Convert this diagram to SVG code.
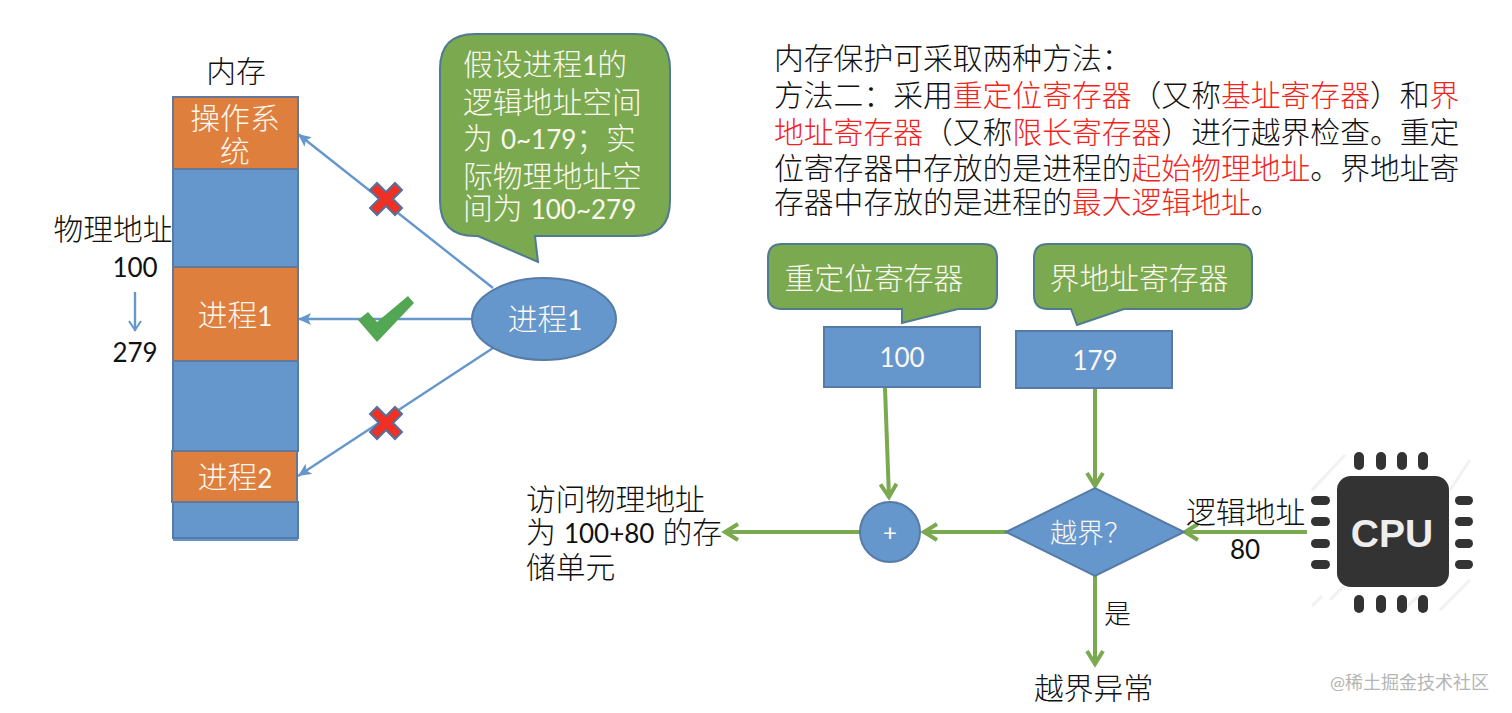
<svg xmlns="http://www.w3.org/2000/svg" width="1512" height="713" viewBox="0 0 1512 713">
<style>
text{font-family:"Lato","Noto Sans CJK SC",sans-serif;font-size:29.8px;fill:#111;font-weight:300}
.w{fill:#fbf8f0}
.m{text-anchor:middle}
.r{fill:#f0241c}
.n{font-size:26px;font-weight:400}
.s{fill:#6597cd;stroke:#557ba6;stroke-width:2}
.o{fill:#df7f3e;stroke:#64799a;stroke-width:2}
.g{fill:#7aa94f;stroke:#4f7a8f;stroke-width:2}
.bl{stroke:#6597cd;stroke-width:2.4;fill:none}
.gl{stroke:#7aa94f;stroke-width:4;fill:none}
.x{fill:#ee3124;stroke:#55709a;stroke-width:2}
.p{fill:#333}
.h{stroke:#f1f1f1;stroke-width:3}
</style>
<defs>
<marker id="ab" markerUnits="userSpaceOnUse" markerWidth="20" markerHeight="16" refX="13" refY="6" orient="auto"><path d="M0 0L13 6L0 12L3 6Z" fill="#6597cd"/></marker>
<marker id="ag" markerUnits="userSpaceOnUse" markerWidth="24" markerHeight="24" refX="17" refY="10" orient="auto"><path d="M3 2L16 10L3 18" fill="none" stroke="#7aa94f" stroke-width="4"/></marker>
<marker id="as" markerUnits="userSpaceOnUse" markerWidth="20" markerHeight="20" refX="13" refY="8" orient="auto"><path d="M3 2L12 8L3 14" fill="none" stroke="#6597cd" stroke-width="2"/></marker>
</defs>
<rect width="1512" height="713" fill="#fff"/>
<g id="connectors">
<path class="bl" marker-end="url(#ab)" d="M493 288L298 134"/>
<path class="bl" marker-end="url(#ab)" d="M472 319H298"/>
<path class="bl" marker-end="url(#ab)" d="M493 348L298 476"/>
<path class="bl" marker-end="url(#as)" d="M135 292V331"/>
<path class="gl" marker-end="url(#ag)" d="M885 388L889 498"/>
<path class="gl" marker-end="url(#ag)" d="M1095 388V487"/>
<path class="gl" marker-end="url(#ag)" d="M1007 532H923"/>
<path class="gl" marker-end="url(#ag)" d="M860 532H724"/>
<path class="gl" marker-end="url(#ag)" d="M1095 576V665"/>
<path class="gl" marker-end="url(#ag)" d="M1307 532H1184"/>
</g>
<g id="memory">
<rect x="173" y="502" width="125" height="39" fill="#6597cd"/>
<rect class="s" x="173" y="169" width="125" height="98"/>
<rect class="s" x="173" y="361" width="125" height="90"/>
<rect class="s" x="173" y="502" width="125" height="36"/>
<g id="os"><rect class="o" x="173" y="97" width="125" height="72"/><text class="w m" x="235" y="129">操作系</text><text class="w m" x="235" y="162">统</text></g>
<g id="p1"><rect class="o" x="173" y="267" width="125" height="94"/><text class="w m" x="235" y="326">进程<tspan class="n">1</tspan></text></g>
<g id="p2"><rect class="o" x="172" y="451" width="125" height="51"/><text class="w m" x="235" y="488">进程<tspan class="n">2</tspan></text></g>
</g>
<text id="mem-label" class="m" x="236" y="82">内存</text>
<g id="addr"><text class="m" x="113" y="240">物理地址</text><text class="m n" x="135" y="277">100</text><text class="m n" x="135" y="362">279</text></g>
<g id="marks">
<path class="x" transform="translate(386 199)" d="M-9-16L0-7L9-16L16-9L7 0L16 9L9 16L0 7L-9 16L-16 9L-7 0L-16-9Z"/>
<path class="x" transform="translate(386 423)" d="M-9-16L0-7L9-16L16-9L7 0L16 9L9 16L0 7L-9 16L-16 9L-7 0L-16-9Z"/>
<path fill="#53a653" d="M358 320L368 312L377 322L408 296L414 303L377 342Z"/>
</g>
<g id="proc"><ellipse class="s" cx="544" cy="319" rx="72" ry="41"/><text class="w m" x="545" y="330">进程<tspan class="n">1</tspan></text></g>
<g id="callout1"><path class="g" d="M475 34H635Q670 34 670 69V201Q670 236 635 236H535L538 262L478 236H475Q440 236 440 201V69Q440 34 475 34Z"/>
<text class="w" x="463" y="75">假设进程<tspan class="n">1</tspan>的</text><text class="w" x="463" y="113">逻辑地址空间</text><text class="w" x="463" y="149">为 <tspan class="n">0~179</tspan>；实</text><text class="w" x="463" y="187">际物理地址空</text><text class="w" x="463" y="219">间为 <tspan class="n">100~279</tspan></text></g>
<g id="desc">
<text x="774" y="69">内存保护可采取两种方法：</text>
<text x="774" y="106">方法二：采用<tspan class="r">重定位寄存器</tspan>（又称<tspan class="r">基址寄存器</tspan>）和<tspan class="r">界</tspan></text>
<text x="774" y="143"><tspan class="r">地址寄存器</tspan>（又称<tspan class="r">限长寄存器</tspan>）进行越界检查。重定</text>
<text x="774" y="179">位寄存器中存放的是进程的<tspan class="r">起始物理地址</tspan>。界地址寄</text>
<text x="774" y="213">存器中存放的是进程的<tspan class="r">最大逻辑地址</tspan>。</text>
</g>
<g id="callout2"><path class="g" d="M782 244H983Q997 244 997 258V295Q997 309 983 309H958L902 323V309H782Q768 309 768 295V258Q768 244 782 244Z"/><text class="w m" x="874" y="289">重定位寄存器</text></g>
<g id="callout3"><path class="g" d="M1048 244H1238Q1252 244 1252 258V295Q1252 309 1238 309H1124L1077 325L1071 309H1048Q1034 309 1034 295V258Q1034 244 1048 244Z"/><text class="w m" x="1139" y="289">界地址寄存器</text></g>
<g id="box100"><rect class="s" x="824" y="327" width="156" height="60"/><text class="w m n" x="902" y="367">100</text></g>
<g id="box179"><rect class="s" x="1016" y="331" width="156" height="57"/><text class="w m n" x="1095" y="370">179</text></g>
<g id="plus"><circle class="s" cx="890" cy="532" r="30"/><text class="w m" x="890" y="541" style="font-size:24px;font-weight:400">+</text></g>
<g id="check"><path class="s" d="M1006 532L1095 488L1184 532L1095 576Z"/><text class="w" x="1050" y="543" style="font-size:27px">越界？</text></g>
<g id="labels">
<text x="526" y="510">访问物理地址</text>
<text x="526" y="543">为 <tspan class="n">100+80</tspan> 的存</text>
<text x="526" y="578">储单元</text>
<text x="1104" y="624" style="font-size:27px">是</text>
<text x="1034" y="699">越界异常</text>
<text x="1186" y="523">逻辑地址</text>
<text class="m n" x="1245" y="559">80</text>
</g>
<g id="cpu">
<path class="h" d="M1312 490L1345 455M1330 600L1350 580M1312 606L1322 596M1440 610L1470 580M1400 612L1420 595M1450 490L1470 460"/>
<rect class="p" x="1337" y="476" width="112" height="111" rx="14"/>
<g class="p">
<rect x="1354" y="452" width="10" height="18" rx="5"/><rect x="1376" y="452" width="10" height="18" rx="5"/><rect x="1397" y="452" width="10" height="18" rx="5"/><rect x="1418" y="452" width="10" height="18" rx="5"/>
<rect x="1354" y="595" width="10" height="18" rx="5"/><rect x="1376" y="595" width="10" height="18" rx="5"/><rect x="1397" y="595" width="10" height="18" rx="5"/><rect x="1418" y="595" width="10" height="18" rx="5"/>
<rect x="1311" y="496" width="19" height="9" rx="4.5"/><rect x="1311" y="517" width="19" height="9" rx="4.5"/><rect x="1311" y="539" width="19" height="9" rx="4.5"/><rect x="1311" y="560" width="19" height="9" rx="4.5"/>
<rect x="1455" y="496" width="18" height="9" rx="4.5"/><rect x="1455" y="517" width="18" height="9" rx="4.5"/><rect x="1455" y="539" width="18" height="9" rx="4.5"/><rect x="1455" y="560" width="18" height="9" rx="4.5"/>
</g>
<text class="m" x="1392" y="547" style="font-family:'Liberation Sans',sans-serif;font-size:39px;font-weight:700;fill:#eee">CPU</text>
</g>
<text id="watermark" x="1330" y="689" style="font-size:18px;fill:#b5b5b5;font-weight:400">@稀土掘金技术社区</text>
</svg>
